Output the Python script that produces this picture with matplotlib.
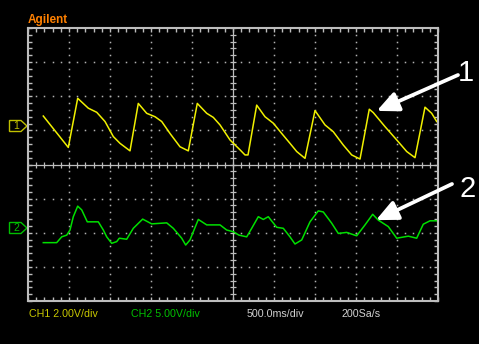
import numpy as np
import matplotlib
matplotlib.use("Agg")
import matplotlib.pyplot as plt
from matplotlib.patches import Polygon, FancyArrowPatch

plt.rcParams["font.family"] = ["Liberation Sans", "DejaVu Sans"]

# screen is 10 x 8 divisions, values below are in divisions
ch1_t = [0.373, 0.983, 1.212, 1.471, 1.676, 1.878, 2.080, 2.244, 2.488, 2.690,
         2.895, 3.098, 3.261, 3.463, 3.707, 3.910, 4.129, 4.359, 4.520, 4.683,
         4.927, 5.171, 5.293, 5.366, 5.578, 5.780, 5.983, 6.188, 6.390, 6.554,
         6.756, 7.000, 7.244, 7.446, 7.690, 7.895, 8.098, 8.324, 8.422, 8.707,
         8.993, 9.237, 9.439, 9.683, 9.846, 9.968]
ch1_v = [1.42, 0.50, 1.94, 1.65, 1.53, 1.26, 0.82, 0.62, 0.40, 1.79,
         1.50, 1.40, 1.26, 0.91, 0.52, 0.40, 1.79, 1.50, 1.38, 1.16,
         0.72, 0.43, 0.28, 0.28, 1.74, 1.40, 1.21, 0.91, 0.62, 0.38,
         0.18, 1.58, 1.16, 0.96, 0.57, 0.28, 0.16, 1.62, 1.52, 1.11,
         0.72, 0.38, 0.20, 1.68, 1.50, 1.26]

ch2_t = [0.373, 0.700, 0.822, 0.944, 1.024, 1.105, 1.212, 1.310, 1.446, 1.715,
         1.837, 1.920, 2.041, 2.163, 2.227, 2.407, 2.568, 2.797, 3.017, 3.383,
         3.544, 3.749, 3.846, 3.951, 4.154, 4.359, 4.683, 4.846, 5.007, 5.146,
         5.334, 5.456, 5.617, 5.739, 5.861, 6.066, 6.227, 6.390, 6.512, 6.676,
         6.878, 7.080, 7.202, 7.407, 7.568, 7.773, 8.017, 8.220, 8.407, 8.544,
         8.788, 8.993, 9.276, 9.480, 9.641, 9.805, 9.968]
ch2_v = [-2.29, -2.29, -2.12, -2.07, -1.92, -1.53, -1.22, -1.33, -1.68, -1.68,
         -1.92, -2.12, -2.31, -2.26, -2.16, -2.19, -1.87, -1.60, -1.74, -1.71,
         -1.87, -2.16, -2.36, -2.21, -1.61, -1.77, -1.77, -1.92, -1.97, -2.07,
         -2.12, -1.87, -1.53, -1.61, -1.53, -1.84, -1.87, -2.12, -2.33, -2.21,
         -1.68, -1.36, -1.39, -1.72, -2.02, -1.99, -2.09, -1.77, -1.46, -1.63,
         -1.82, -2.16, -2.10, -2.16, -1.75, -1.65, -1.65]

arrow_tips = [(8.506, 1.57), (8.488, -1.63)]
arrow_labels = ["1", "2"]

W, H = 479, 344
fig = plt.figure(figsize=(W / 100, H / 100), dpi=100, facecolor="black")

# overlay in pixel coords for the scope decorations
ov = fig.add_axes([0, 0, 1, 1])
ov.set_xlim(0, W)
ov.set_ylim(H, 0)
ov.axis("off")
ov.set_facecolor("black")

ax = fig.add_axes([28 / W, (H - 301) / H, 410 / W, 273 / H])
ax.set_facecolor("black")
ax.set_xlim(0, 10)
ax.set_ylim(-4, 4)
grey = "#bdbdbd"
for s in ax.spines.values():
    s.set_color(grey)
    s.set_linewidth(1.5)
ax.set_xticks(np.arange(0, 11, 1))
ax.set_yticks(np.arange(-4, 5, 1))
ax.set_xticks(np.arange(0, 10.01, 0.2), minor=True)
ax.set_yticks(np.arange(-4, 4.01, 0.2), minor=True)
ax.tick_params(which="both", direction="in", top=True, right=True,
               labelbottom=False, labelleft=False, color=grey, length=3, width=1)

# dotted graticule
fine_x = np.arange(0, 10.01, 0.2)
fine_y = np.arange(-4, 4.01, 0.2)
for gx in range(1, 10):
    if gx != 5:
        ax.plot(np.full_like(fine_y, gx), fine_y, ls="none", marker="s",
                ms=1.1, mec="none", mfc="#b0b0b0")
for gy in range(-3, 4):
    if gy != 0:
        ax.plot(fine_x, np.full_like(fine_x, gy), ls="none", marker="s",
                ms=1.1, mec="none", mfc="#b0b0b0")
ax.axvline(5, color=grey, lw=0.9)
ax.axhline(0, color=grey, lw=0.9)
ax.plot(fine_x, np.zeros_like(fine_x), ls="none", marker="|", ms=4.5, mew=0.9, color=grey)
ax.plot(np.full_like(fine_y, 5), fine_y, ls="none", marker="_", ms=4.5, mew=0.9, color=grey)

ax.plot(ch1_t, ch1_v, color="#f0f000", lw=1.1)
ax.plot(ch2_t, ch2_v, color="#00e000", lw=1.1)

# arrows with labels
for (tx, ty), lab, tail, lpos in zip(arrow_tips, arrow_labels,
                                      [(458, 75), (452, 184)],
                                      [(466, 73), (468, 189)]):
    arr = FancyArrowPatch(posA=ov.transData.transform(tail),
                          posB=ax.transData.transform((tx, ty)),
                          transform=None, arrowstyle="-|>,head_length=13,head_width=6",
                          mutation_scale=1, color="white", lw=2.7,
                          shrinkA=0, shrinkB=0)
    fig.add_artist(arr)
    ov.text(lpos[0], lpos[1], lab, color="white", fontsize=21,
            ha="center", va="center")

# header and footer text
ov.text(28, 20, "Agilent", color="#ff8000", fontsize=8.5, fontweight="bold",
        ha="left", va="center")
ov.text(36, 288, "Delay:20.00000ms", color="#e07000", fontsize=7.5,
        ha="left", va="center")
ov.text(29, 314, "CH1 2.00V/div", color="#c8c800", fontsize=7.7, ha="left", va="center")
ov.text(131, 314, "CH2 5.00V/div", color="#00c000", fontsize=7.7, ha="left", va="center")
ov.text(247, 314, "500.0ms/div", color="#d0d0d0", fontsize=7.7, ha="left", va="center")
ov.text(342, 314, "200Sa/s", color="#d0d0d0", fontsize=7.7, ha="left", va="center")

# trigger marker
ov.add_patch(Polygon([(227.5, 31), (236.5, 31), (236.5, 43), (232, 48), (227.5, 43)],
                     closed=True, fill=False, ec="#ff8000", lw=1.0))
ov.add_patch(Polygon([(228, 28), (236, 28), (232, 31)], closed=True,
                     fc="#ff8000", ec="none"))
ov.text(232, 38.5, "T", color="#ff8000", fontsize=6.5, ha="center", va="center")

# channel markers
for yc, col, lab in [(126, "#c0c000", "1"), (228, "#00c000", "2")]:
    ov.add_patch(Polygon([(9.5, yc - 5.5), (21, yc - 5.5), (27, yc),
                          (21, yc + 5.5), (9.5, yc + 5.5)],
                         closed=True, fill=False, ec=col, lw=1.0))
    ov.text(16, yc, lab, color=col, fontsize=7.5, ha="center", va="center")

fig.savefig("out.png", dpi=100, facecolor="black")
